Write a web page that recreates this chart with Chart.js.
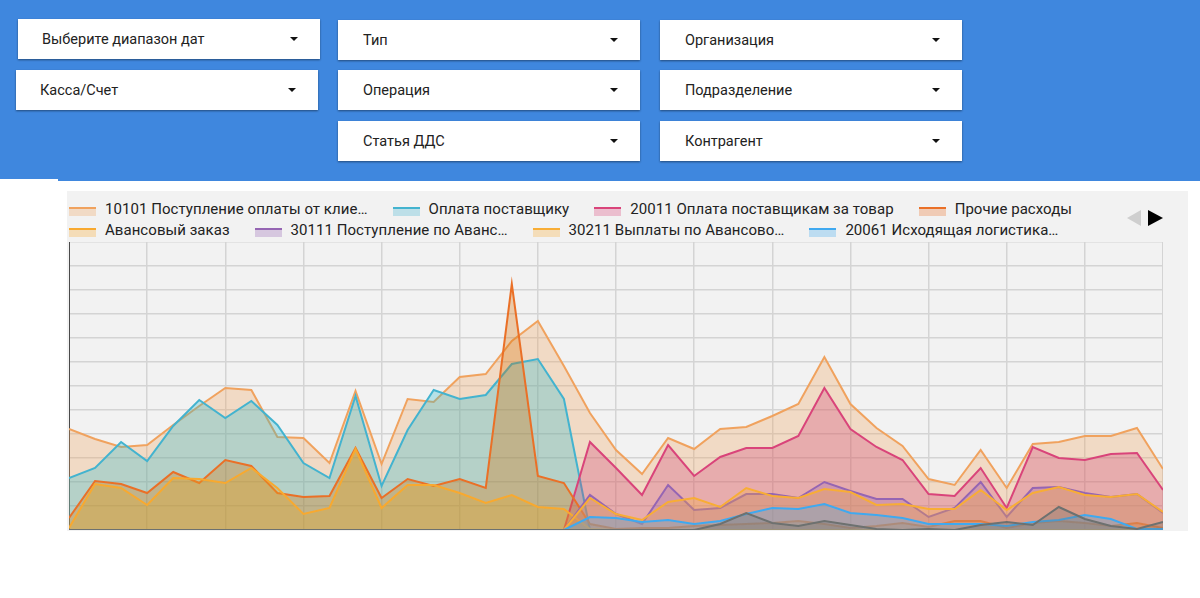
<!DOCTYPE html>
<html>
<head>
<meta charset="utf-8">
<title>ДДС</title>
<script src="https://cdn.jsdelivr.net/npm/chart.js@4/dist/chart.umd.min.js"></script>
<style>
    html, body { margin: 0; padding: 0; background: #fff; }
    body { position: relative; width: 1200px; height: 598px; overflow: hidden; font-family: Roboto, sans-serif; }
    .header { position: absolute; left: 0; top: 0; width: 1200px; height: 181px; background: #3f87de; }
    .header-notch { position: absolute; left: 0; top: 179px; width: 58px; height: 2px; background: #fff; }
    .filter { position: absolute; width: 302px; height: 40px; background: #fff; box-shadow: 0 1px 2px rgba(0, 0, 0, 0.45); color: #222; font-size: 14.5px; line-height: 42px; }
    .filter span { position: absolute; top: 0; white-space: nowrap; }
    .filter i { position: absolute; left: 272px; top: 18px; width: 0; height: 0; border-left: 4px solid transparent; border-right: 4px solid transparent; border-top: 4px solid #111; }
    .panel { position: absolute; left: 67px; top: 191px; width: 1121px; height: 340px; background: #f2f2f2; }
    .legend-row { position: absolute; left: 69px; display: flex; gap: 25px; color: #222; font-size: 15px; line-height: 20px; white-space: nowrap; letter-spacing: 0.05px; }
    .legend-item { display: flex; align-items: center; gap: 9px; }
    .swatch { display: block; width: 27px; height: 7px; border-top: 2px solid; margin-top: 5px; }
    .arrow { position: absolute; top: 210px; width: 0; height: 0; border-top: 8px solid transparent; border-bottom: 8px solid transparent; }
    .arrow.prev { left: 1127px; border-right: 14px solid #cfcfcf; }
    .arrow.next { left: 1148px; border-left: 15px solid #000; }
    #chartWrap { position: absolute; left: 69px; top: 242px; width: 1094px; height: 288px; }
</style>
</head>
<body>
<div class="header"></div>
<div class="header-notch"></div>
<div id="filters"></div>
<div class="panel"></div>
<div class="legend-row" id="legendTop" style="top: 199px"></div>
<div class="legend-row" id="legendBottom" style="top: 220px"></div>
<div class="arrow prev"></div>
<div class="arrow next"></div>
<div id="chartWrap"><canvas id="cashChart" width="1094" height="288"></canvas></div>

<script>
// Filters text
const filterNames = ['Выберите диапазон дат', 'Касса/Счет', 'Тип', 'Операция', 'Статья ДДС', 'Организация', 'Подразделение', 'Контрагент'];
const filterLeft = [18, 16, 338, 338, 338, 660, 660, 660];
const filterTop = [19, 70, 20, 70, 121, 20, 70, 121];
const filterTextLeft = [24, 24, 25, 25, 25, 25, 25, 25];

// Chart data (no axis labels in the original)
const periods = ['1','2','3','4','5','6','7','8','9','10','11','12','13','14','15','16','17','18','19','20','21','22','23','24','25','26','27','28','29','30','31','32','33','34','35','36','37','38','39','40','41','42','43'];
const yTickStep = 24;
const yMax = 288;

const receipts10101 = [101,91,83,85,105,124,142,140,93,92,67,139,66,131,128,153,156,189,209,164,117,80,56,92,81,101,103,114,126,173,126,102,84,51,45,80,42,86,88,94,94,102,61];
const supplierPayment = [52,62,88,69,104,130,112,129,105,67,52,134,44,100,140,131,135,166,171,131,0,0,0,0,0,0,0,0,0,0,0,0,0,0,0,0,0,0,0,0,0,0,0];
const goods20011 = [0,0,0,0,0,0,0,0,0,0,0,0,0,0,0,0,0,0,0,0,88,62,35,85,54,73,82,82,94,142,101,83,70,36,34,62,22,83,72,70,76,77,40];
const otherExpenses = [12,49,46,37,58,47,70,64,37,33,34,82,32,51,44,51,42,246,54,47,6,1,2,2,4,5,6,7,9,6,2,4,7,3,9,9,2,7,9,7,4,7,2];
const advanceOrder = [2,46,42,25,52,51,47,62,42,16,22,81,22,45,45,37,27,35,23,21,1,0,0,0,0,0,0,0,0,0,0,0,0,0,0,0,0,0,0,0,0,0,0];
const advance30111 = [0,0,0,0,0,0,0,0,0,0,0,0,0,0,0,0,0,0,0,0,35,16,6,45,20,22,36,36,32,48,39,31,31,13,22,48,13,42,43,37,33,36,17];
const advance30211 = [0,0,0,0,0,0,0,0,0,0,0,0,0,0,0,0,0,0,0,0,32,16,10,28,32,23,42,34,32,41,38,25,26,21,21,40,20,37,43,35,33,36,18];
const logistics20061 = [0,0,0,0,0,0,0,0,0,0,0,0,0,0,0,0,0,0,0,0,13,12,8,10,6,9,16,22,21,26,17,15,12,6,6,6,4,8,10,15,11,1,1];
// This series sits on the next legend page in the original, so its name is not shown
const nextPageSeries = [0,0,0,0,0,0,0,0,0,0,0,0,0,0,0,0,0,0,0,0,0,0,0,0,0,6,17,7,4,9,5,1,0,1,0,5,8,5,23,11,4,1,8];

const seriesNames = ['10101 Поступление оплаты от клие…', 'Оплата поставщику', '20011 Оплата поставщикам за товар', 'Прочие расходы', 'Авансовый заказ', '30111 Поступление по Аванс…', '30211 Выплаты по Авансово…', '20061 Исходящая логистика…', ''];
const seriesValues = [receipts10101, supplierPayment, goods20011, otherExpenses, advanceOrder, advance30111, advance30211, logistics20061, nextPageSeries];
const seriesColors = ['#f0a25e', '#43b3cf', '#d9447a', '#ea7027', '#f8a92f', '#9565b3', '#f8ad35', '#3fa9f0', '#6d7170'];
// Fill tints are a bit different from the lines, tuned against the overlaps in the picture
const fillColors = ['#f0a25e', '#29b9cd', '#ce3f75', '#d66c00', '#e7a51e', '#9565b3', '#f8ad35', '#3fa9f0', '#6d7170'];

function withAlpha(hex, alpha) {
    const r = parseInt(hex.slice(1, 3), 16);
    const g = parseInt(hex.slice(3, 5), 16);
    const b = parseInt(hex.slice(5, 7), 16);
    return 'rgba(' + r + ', ' + g + ', ' + b + ', ' + alpha + ')';
}

filterNames.forEach(function(name, i) {
    const box = document.createElement('div');
    box.className = 'filter';
    box.style.left = filterLeft[i] + 'px';
    box.style.top = filterTop[i] + 'px';
    box.innerHTML = '<span style="left: ' + filterTextLeft[i] + 'px">' + name + '</span><i></i>';
    document.getElementById('filters').appendChild(box);
});

// Legend is HTML: two rows with a line + fill swatch, like the original
seriesNames.forEach(function(name, i) {
    if (!name) return;
    const item = document.createElement('div');
    item.className = 'legend-item';
    const swatch = document.createElement('span');
    swatch.className = 'swatch';
    swatch.style.borderTopColor = seriesColors[i];
    swatch.style.background = withAlpha(seriesColors[i], 0.3);
    const label = document.createElement('span');
    label.textContent = name;
    item.appendChild(swatch);
    item.appendChild(label);
    document.getElementById(i < 4 ? 'legendTop' : 'legendBottom').appendChild(item);
});

const cashCtx = document.getElementById('cashChart').getContext('2d');
const cashChart = new Chart(cashCtx, {
    type: 'line',
    data: {
        labels: periods,
        datasets: seriesValues.map(function(values, i) {
            return {
                label: seriesNames[i],
                data: values,
                borderColor: seriesColors[i],
                backgroundColor: withAlpha(fillColors[i], 0.3),
                borderWidth: 2,
                fill: 'origin',
                tension: 0,
                pointRadius: 0,
                order: seriesValues.length - i
            };
        })
    },
    options: {
        responsive: false,
        animation: false,
        layout: { padding: 0 },
        plugins: {
            legend: { display: false },
            tooltip: { enabled: false }
        },
        scales: {
            x: {
                ticks: { display: false, autoSkip: false },
                grid: {
                    tickLength: 0,
                    lineWidth: 1.5,
                    color: function(context) {
                        return context.index % 3 === 0 ? '#d4d4d4' : 'transparent';
                    }
                },
                border: { color: '#6e6e6e', width: 2 }
            },
            y: {
                min: 0,
                max: yMax,
                ticks: { display: false, stepSize: yTickStep },
                grid: { tickLength: 0, lineWidth: 1.5, color: '#d4d4d4' },
                border: { color: '#4a4a4a', width: 2 }
            }
        }
    }
});
</script>
</body>
</html>
